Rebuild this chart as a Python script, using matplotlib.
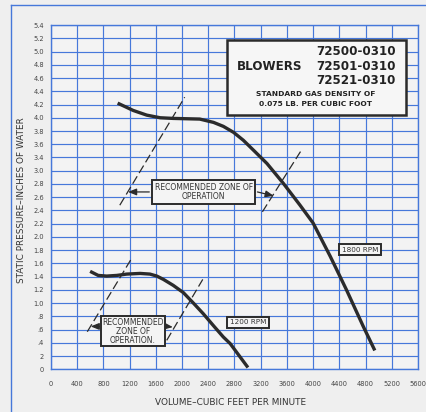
import numpy as np
import matplotlib
matplotlib.use('Agg')
import matplotlib.pyplot as plt
from matplotlib.lines import Line2D

# volume (cfm) / static pressure (in. water)
cfm_1800 = [1040, 1255, 1460, 1665, 1865, 2270, 2480, 2630, 2785, 2935, 3090, 3295, 3545,
            3800, 4000, 4260, 4505, 4765, 4930]
sp_1800 = [4.21, 4.11, 4.04, 4.00, 3.99, 3.98, 3.93, 3.87, 3.78, 3.66, 3.51, 3.22, 2.81,
           2.48, 2.21, 1.71, 1.21, 0.65, 0.31]
cfm_1200 = [620, 720, 850, 1005, 1155, 1360, 1510, 1615, 1715, 1865, 2020, 2175, 2325,
            2480, 2630, 2735, 2990]
sp_1200 = [1.47, 1.42, 1.41, 1.42, 1.44, 1.45, 1.44, 1.41, 1.36, 1.27, 1.16, 1.00, 0.84,
           0.66, 0.49, 0.39, 0.05]

# recommended zone boundaries (two ends of each dashed guide)
zone_1800_left = ([1050, 2040], [2.48, 4.31])
zone_1800_right = ([3226, 3827], [2.38, 3.52])
zone_1200_left = ([554, 1232], [0.57, 1.68])
zone_1200_right = ([1766, 2316], [0.44, 1.36])

x_ticks = list(range(0, 5601, 400))
# the printed scale skips one step: 3.4 sits directly above 3.0
y_ticks = [round(0.2 * i, 1) for i in range(16)] + [round(3.4 + 0.2 * i, 1) for i in range(11)]
y_labels = ['0', '2', '.4', '.6', '.8', '1.0', '1.2', '1.4', '1.6', '1.8', '2.0', '2.2', '2.4',
            '2.6', '2.8', '3.0', '3.4', '3.6', '3.8', '4.0', '4.2', '4.4', '4.6', '4.8', '5.0',
            '5.2', '5.4']


def fwd(y):
    y = np.asarray(y, float)
    return np.where(y <= 3.0, y, np.where(y >= 3.4, y - 0.2, 3.0 + (y - 3.0) / 2))


def inv(v):
    v = np.asarray(v, float)
    return np.where(v <= 3.0, v, np.where(v >= 3.2, v + 0.2, 3.0 + (v - 3.0) * 2))


PAPER = '#efefef'
BLUE = '#4678da'
INK = '#2b2b2b'

fig = plt.figure(figsize=(4.27, 4.12), dpi=100, facecolor=PAPER)
ax = fig.add_axes([0.1194, 0.1032, 0.8595, 0.8361], facecolor='#f3f3f3')
ax.set_yscale('function', functions=(fwd, inv))
ax.set_xlim(0, 5600)
ax.set_ylim(0, 5.4)
ax.set_xticks(x_ticks)
ax.set_xticklabels([str(v) for v in x_ticks])
ax.set_yticks(y_ticks)
ax.set_yticklabels(y_labels)
ax.minorticks_off()
ax.tick_params(length=0, labelsize=4.8, colors='#444')
ax.tick_params(axis='x', pad=8)
ax.tick_params(axis='y', pad=5)
ax.grid(True, color=BLUE, lw=0.85)
ax.set_axisbelow(True)
for s in ax.spines.values():
    s.set_color(BLUE)
    s.set_linewidth(1.0)

# fan curves
ax.plot(cfm_1800, sp_1800, color=INK, lw=2.4, solid_joinstyle='round', zorder=4)
ax.plot(cfm_1200, sp_1200, color=INK, lw=2.4, solid_joinstyle='round', zorder=4)

# dashed zone guides
for xs, ys in (zone_1800_left, zone_1800_right, zone_1200_left, zone_1200_right):
    ax.plot(xs, ys, color=INK, lw=0.9, ls=(0, (7, 3)), zorder=3)

ax.text(2330, 2.68, 'RECOMMENDED ZONE OF\nOPERATION', ha='center', va='center',
        fontsize=5.5, color='#333', linespacing=1.1,
        bbox=dict(boxstyle='square,pad=0.35', fc='#f4f4f4', ec=INK, lw=1.4), zorder=6)
ax.text(1247, 0.58, 'RECOMMENDED\nZONE OF\nOPERATION.', ha='center', va='center',
        fontsize=5.5, color='#333', linespacing=1.0,
        bbox=dict(boxstyle='square,pad=0.15', fc='#f4f4f4', ec=INK, lw=1.4), zorder=6)

arrow = dict(arrowstyle='-|>,head_length=0.5,head_width=0.2', color=INK, lw=0.9,
             shrinkA=0, shrinkB=0)
ax.annotate('', xy=(1175, 2.68), xytext=(1500, 2.68), arrowprops=arrow, zorder=5)
ax.annotate('', xy=(3400, 2.62), xytext=(3150, 2.68), arrowprops=arrow, zorder=5)
ax.annotate('', xy=(605, 0.65), xytext=(740, 0.65), arrowprops=arrow, zorder=5)
ax.annotate('', xy=(1860, 0.64), xytext=(1770, 0.65), arrowprops=arrow, zorder=5)

rpm_box = dict(boxstyle='square,pad=0.35', fc='#f4f4f4', ec=INK, lw=1.4)
ax.text(4718, 1.81, '1800 RPM', ha='center', va='center', fontsize=5.2, color='#333',
        bbox=rpm_box, zorder=6)
ax.text(3008, 0.71, '1200 RPM', ha='center', va='center', fontsize=5.2, color='#333',
        bbox=rpm_box, zorder=6)

# model / gas density panel
ax.add_patch(plt.Rectangle((0.480, 0.739), 0.487, 0.217, transform=ax.transAxes,
                           fc='#f6f6f6', ec=INK, lw=1.8, zorder=7))
kw = dict(transform=ax.transAxes, color='#222', weight='bold', zorder=8, va='center')
ax.text(0.94, 0.922, '72500-0310', ha='right', fontsize=8.6, **kw)
ax.text(0.507, 0.881, 'BLOWERS', ha='left', fontsize=8.6, **kw)
ax.text(0.94, 0.881, '72501-0310', ha='right', fontsize=8.6, **kw)
ax.text(0.94, 0.840, '72521-0310', ha='right', fontsize=8.6, **kw)
ax.text(0.722, 0.800, 'STANDARD GAS DENSITY OF', ha='center', fontsize=5.4, **kw)
ax.text(0.722, 0.771, '0.075 LB. PER CUBIC FOOT', ha='center', fontsize=5.4, **kw)

fig.text(0.0515, 0.515, 'STATIC PRESSURE\u2013INCHES OF WATER', rotation=90,
         ha='center', va='center', fontsize=6.4, color='#333')
fig.text(0.541, 0.0226, 'VOLUME\u2013CUBIC FEET PER MINUTE', ha='center', va='center',
         fontsize=6.4, color='#333')

# outer sheet border
fig.add_artist(Line2D([0.0258, 0.0258], [0.0, 0.988], color=BLUE, lw=1.0))
fig.add_artist(Line2D([0.0258, 1.0], [0.988, 0.988], color=BLUE, lw=1.0))

fig.savefig('out.png', dpi=100, facecolor=PAPER)
